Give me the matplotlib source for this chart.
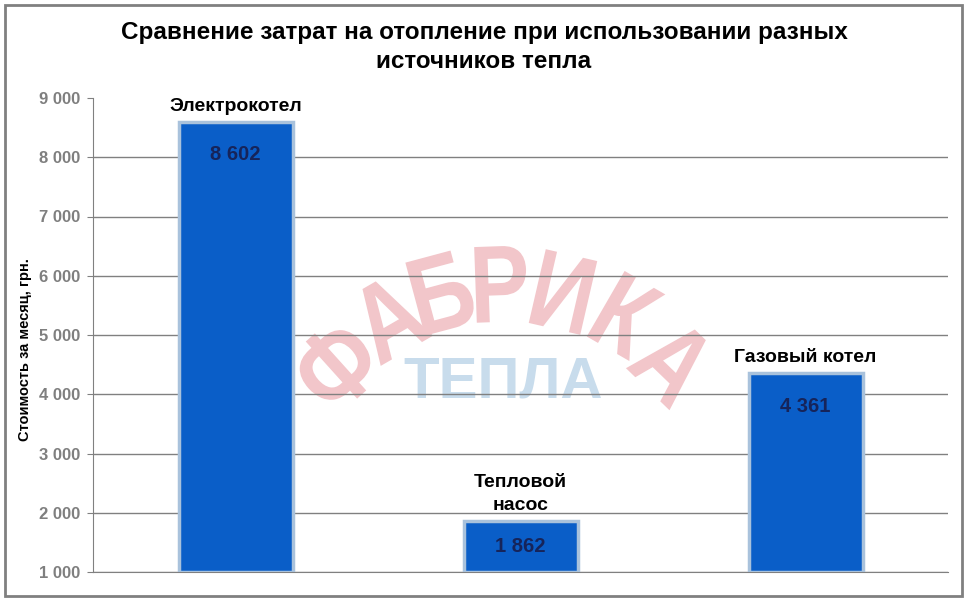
import matplotlib.pyplot as plt
from matplotlib.patches import Rectangle, PathPatch
from matplotlib.textpath import TextPath
from matplotlib.font_manager import FontProperties
from matplotlib.transforms import Affine2D, IdentityTransform

# данные
categories = ['Электрокотел', 'Тепловой\nнасос', 'Газовый котел']
values = [8602, 1862, 4361]
value_labels = ['8 602', '1 862', '4 361']
yticks = [1000, 2000, 3000, 4000, 5000, 6000, 7000, 8000, 9000]
ytick_labels = ['1 000', '2 000', '3 000', '4 000', '5 000', '6 000', '7 000', '8 000', '9 000']

plt.rcParams['font.family'] = ['Liberation Sans', 'DejaVu Sans']
plt.rcParams['font.weight'] = 'bold'

W, H = 968, 601
fig = plt.figure(figsize=(W / 100, H / 100), dpi=100)
ax = fig.add_axes([93 / W, 1 - 572 / H, (948 - 93) / W, (572 - 98) / H])
ax.patch.set_alpha(0)

# водяной знак "ФАБРИКА ТЕПЛА" (буквы по дуге, в пикселях)
fp = FontProperties(family='Liberation Sans', weight='bold')
wm = [('Ф', 336, 366, 42), ('А', 388, 318, 30), ('Б', 442, 292, 15),
      ('Р', 501, 284, 2), ('И', 563, 292, -13), ('К', 627, 316, -30), ('А', 674, 362, -44)]
for ch, x, y, r in wm:
    tp = TextPath((0, 0), ch, size=110, prop=fp)
    bb = tp.get_extents()
    tr = (Affine2D().translate(-(bb.x0 + bb.x1) / 2, -(bb.y0 + bb.y1) / 2)
          .scale(0.82, 1).rotate_deg(r).translate(x, H - y))
    fig.add_artist(PathPatch(tr.transform_path(tp), facecolor='#f2c6ca', edgecolor='none',
                             transform=IdentityTransform(), zorder=-1))
fig.text(503 / W, 1 - 383 / H, 'ТЕПЛА', fontsize=42, color='#c8dcec',
         ha='center', va='center', fontweight='bold', zorder=-1)

x = range(len(categories))
ax.bar(x, [v - 1000 for v in values], bottom=1000, width=0.4,
       color='#0a5ec8', edgecolor='#a9c2dc', linewidth=2.5, zorder=3)

for i, v in enumerate(values):
    ax.annotate(categories[i], (i, v), xytext=(0, 5), textcoords='offset points',
                ha='center', va='bottom', fontsize=14, fontweight='bold',
                color='black', linespacing=1.45, zorder=4)
    ly = max(v - 560, (v + 1000) / 2)
    ax.text(i, ly, value_labels[i], ha='center', va='center', fontsize=14.5,
            fontweight='bold', color='#16245a', zorder=4)

ax.set_xlim(-0.5, 2.5)
ax.set_ylim(1000, 9000)
ax.set_yticks(yticks)
ax.set_yticklabels(ytick_labels, fontsize=12, color='#7f7f7f', fontweight='bold')
ax.set_xticks([])
ax.tick_params(axis='y', length=4, color='#808080', pad=5)
ax.grid(axis='y', color='#808080', linewidth=1, zorder=1)
ax.get_ygridlines()[-1].set_visible(False)
for s in ['top', 'right']:
    ax.spines[s].set_visible(False)
ax.spines['left'].set_color('#808080')
ax.spines['bottom'].set_color('#808080')

fig.text(25 / W, 1 - 350 / H, 'Стоимость за месяц, грн.', rotation=90,
         ha='center', va='center', fontsize=10.5, fontweight='bold')

fig.text(484 / W, 1 - 47 / H,
         'Сравнение затрат на отопление при использовании разных\nисточников тепла',
         ha='center', va='center', fontsize=17.5, fontweight='bold', linespacing=1.35)

fig.add_artist(Rectangle((5 / W, 5 / H), 957 / W, 591 / H, transform=fig.transFigure,
                         fill=False, edgecolor='#808080', linewidth=2))

fig.savefig('out.png', dpi=100)
